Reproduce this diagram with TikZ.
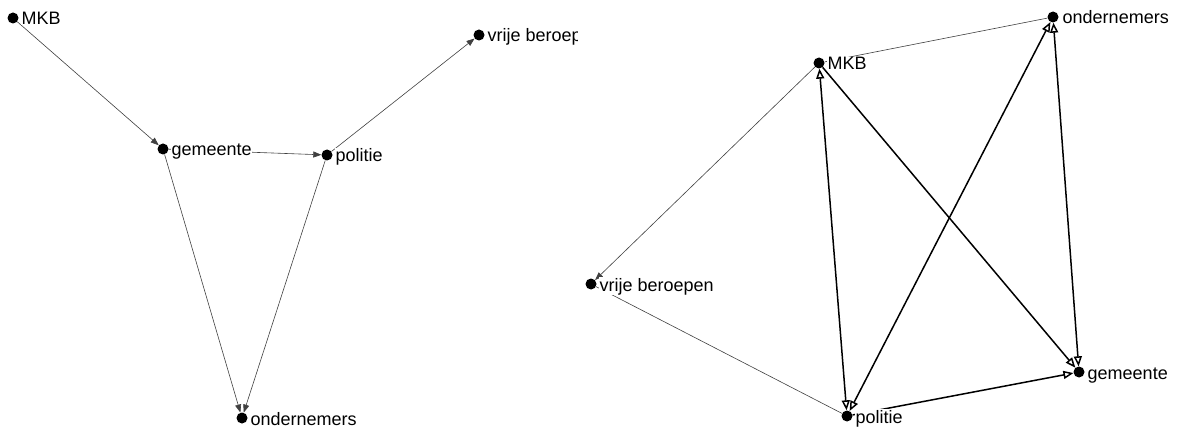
\documentclass[tikz,border=0pt]{standalone}
\usepackage{fontspec}
\setmainfont{Liberation Sans}
\usetikzlibrary{arrows.meta}
\tikzset{
  dot/.style={circle,fill=black,inner sep=0pt,minimum size=11pt},
  lab/.style={anchor=base west,fill=white,inner sep=0.5pt,font=\fontsize{18}{20}\selectfont},
  thin edge/.style={draw=black!75,line width=0.6pt},
  thick edge/.style={draw=black,line width=1.5pt},
  tipthin/.style={-{Triangle[length=8pt,width=6pt]}},
  tipthick/.style={-{Triangle[open,length=10pt,width=8pt]}},
  tipboth/.style={{Triangle[open,length=10pt,width=8pt]}-{Triangle[open,length=10pt,width=8pt]}},
}
\begin{document}
\begin{tikzpicture}[x=1pt,y=-1pt]
\useasboundingbox (0,0) rectangle (1185,430);
% ---------- left graph ----------
\begin{scope}
\clip (0,0) rectangle (577,430);
\node[dot] (lMKB) at (13,18) {};
\node[dot] (lgem) at (163,149) {};
\node[dot] (lpol) at (327,155) {};
\node[dot] (lvrij) at (479,35) {};
\node[dot] (lond) at (242,418) {};
\draw[thin edge,tipthin] (lMKB) -- (lgem);
\draw[thin edge,tipthin] (lgem) -- (lpol);
\draw[thin edge,tipthin] (lpol) -- (lvrij);
\draw[thin edge,tipthin] (lgem) -- (lond);
\draw[thin edge,tipthin] (lpol) -- (lond);
\node[lab] (tlMKB) at (21,25) {MKB};
\node[lab] (tlgem) at (171,156) {gemeente};
\node[lab] (tlpol) at (335,162) {politie};
\node[lab] (tlvrij) at (487,42) {vrije beroep};
\node[lab] (tlond) at (250,425) {ondernemers};
\end{scope}
% ---------- right graph ----------
\node[dot] (rMKB) at (819,63) {};
\node[dot] (rond) at (1053,17) {};
\node[dot] (rvrij) at (591,284) {};
\node[dot] (rpol) at (847,416) {};
\node[dot] (rgem) at (1079,372) {};
\draw[thin edge] (rMKB) -- (rond);
\draw[thin edge,tipthin] (rMKB) -- (rvrij);
\draw[thin edge] (rvrij) -- (rpol);
\draw[thick edge,tipboth] (rMKB) -- (rpol);
\draw[thick edge,tipthick] (rMKB) -- (rgem);
\draw[thick edge,tipboth] (rpol) -- (rond);
\draw[thick edge,tipboth] (rond) -- (rgem);
\draw[thick edge,tipthick] (rpol) -- (rgem);
\node[lab] (trMKB) at (827,70) {MKB};
\node[lab] (trond) at (1062,24) {ondernemers};
\node[lab] (trvrij) at (599,291) {vrije beroepen};
\node[lab] (trpol) at (855,423) {politie};
\node[lab] (trgem) at (1087,379) {gemeente};
\end{tikzpicture}
\end{document}
